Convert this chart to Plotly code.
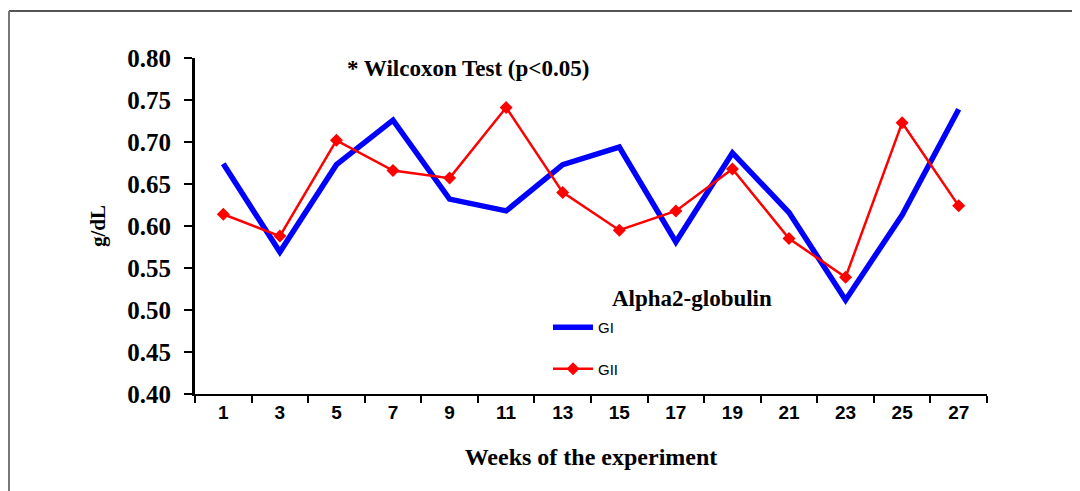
import plotly.graph_objects as go

weeks = ["1", "3", "5", "7", "9", "11", "13", "15", "17", "19", "21", "23", "25", "27"]
gi = [0.674, 0.569, 0.673, 0.726, 0.632, 0.618, 0.673, 0.694, 0.581, 0.687, 0.616, 0.512, 0.613, 0.739]
gii = [0.614, 0.588, 0.702, 0.666, 0.657, 0.741, 0.640, 0.595, 0.618, 0.668, 0.585, 0.539, 0.723, 0.624]
y_ticks = [0.40, 0.45, 0.50, 0.55, 0.60, 0.65, 0.70, 0.75, 0.80]

serif = "Liberation Serif, Times New Roman, serif"
narrow = "Liberation Sans Narrow, Arial Narrow, Liberation Sans, Arial, sans-serif"

fig = go.Figure()
fig.add_trace(go.Scatter(
    x=weeks, y=gi, name="GI", mode="lines",
    line=dict(color="#0000FF", width=5.5),
    legendgroup="a",
))
fig.add_trace(go.Scatter(
    x=weeks, y=gii, name="GII", mode="lines+markers",
    line=dict(color="#FF0000", width=2.5),
    marker=dict(symbol="diamond", size=10, color="#FF0000"),
    legendgroup="b",
))

OFF = 8  # page body margin
W, H = 1080 - OFF, 491 - OFF
L, T = 195 - OFF, 58 - OFF
R = W - (987 - OFF)
B = H - (394 - OFF)
pw, ph = W - L - R, H - T - B

def px(x):
    return (x - OFF - L) / pw

def py(y):
    return (H - B - (y - OFF)) / ph

fig.update_layout(
    width=W, height=H,
    margin=dict(l=L, r=R, t=T, b=B),
    paper_bgcolor="white", plot_bgcolor="white",
    showlegend=True,
    legend=dict(
        x=px(548), y=py(311), xanchor="left", yanchor="top",
        font=dict(family="Liberation Sans, Arial, sans-serif", size=15, color="black"),
        bgcolor="rgba(0,0,0,0)", traceorder="grouped", tracegroupgap=19,
        itemwidth=40,
    ),
    xaxis=dict(
        type="category", range=[-0.5, 13.5],
        showline=True, linecolor="black", linewidth=2,
        ticks="outside", tickson="boundaries", ticklen=7, tickwidth=2, tickcolor="black",
        showgrid=False, zeroline=False,
        tickfont=dict(family=narrow, size=19, color="black", weight="bold"),
        title=dict(text="Weeks of the experiment",
                   font=dict(family=serif, size=24, color="black", weight="bold"),
                   standoff=26),
    ),
    yaxis=dict(
        range=[0.40, 0.80], tickvals=y_ticks, ticktext=[f"{v:.2f}" for v in y_ticks],
        showline=True, linecolor="black", linewidth=3,
        ticks="outside", ticklen=8, tickwidth=2, tickcolor="black",
        showgrid=False, zeroline=False,
        tickfont=dict(family=serif, size=25, color="black", weight="bold"),
        ticklabelstandoff=8,
        title=dict(text="g/dL", font=dict(family=serif, size=21, color="black", weight="bold"),
                   standoff=16),
    ),
    annotations=[
        dict(text="* Wilcoxon Test (p<0.05)", xref="paper", yref="paper",
             x=px(345), y=py(68), xanchor="left", yanchor="middle", showarrow=False,
             font=dict(family=serif, size=23, color="black", weight="bold")),
        dict(text="Alpha2-globulin", xref="paper", yref="paper",
             x=px(610), y=py(298), xanchor="left", yanchor="middle", showarrow=False,
             font=dict(family=serif, size=23, color="black", weight="bold")),
    ],
    shapes=[
        dict(type="line", xref="paper", yref="paper", x0=px(9), x1=px(1080), y0=py(11), y1=py(11),
             line=dict(color="#555555", width=2)),
        dict(type="line", xref="paper", yref="paper", x0=px(9), x1=px(9), y0=py(11), y1=py(491),
             line=dict(color="#777777", width=2)),
    ],
)

fig.write_html("out.html")
